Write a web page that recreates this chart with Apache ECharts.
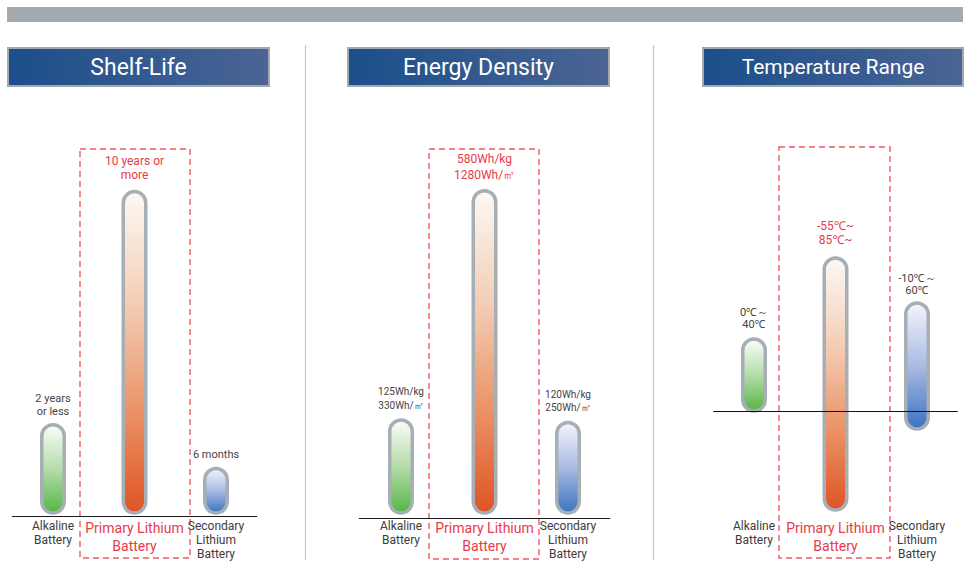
<!DOCTYPE html>
<html>
<head>
<meta charset="utf-8">
<script src="https://cdn.jsdelivr.net/npm/echarts@6/dist/echarts.min.js"></script>
<style>
  html, body { margin: 0; padding: 0; background: #ffffff; }
  #chart { width: 966px; height: 584px; }
</style>
</head>
<body>
<div id="chart"></div>
<script>
// ---- data ----
const categories = ['Alkaline\nBattery', 'Primary Lithium\nBattery', 'Secondary\nLithium\nBattery'];
const panelTitles = ['Shelf-Life', 'Energy Density', 'Temperature Range'];

const shelfLifeYears = [2, 10, 0.5];
const shelfLifeLabels = ['2 years\nor less', '10 years or\nmore', '6 months'];

const energyWhPerKg = [125, 580, 120];
const energyWhPerM3 = [330, 1280, 250];

const tempMinC = [0, -55, -10];
const tempMaxC = [40, 85, 60];
const tempLabels = ['0℃～\n40℃', '-55℃~\n85℃~', '-10℃～\n60℃'];

const energyLabels = energyWhPerKg.map((kg, i) => kg + 'Wh/kg\n' + energyWhPerM3[i] + 'Wh/㎥');

// ---- styling ----
const FONT = 'Roboto, "Noto Sans", sans-serif';
const RED = '#e63c4b';
const GREY_TEXT = '#444444';

const tubeFills = [
  [{ offset: 0, color: '#fbfdfa' }, { offset: 0.5, color: '#b5dca9' }, { offset: 1, color: '#55b544' }],
  [{ offset: 0, color: '#fdf8f5' }, { offset: 0.35, color: '#f3cdb5' }, { offset: 0.7, color: '#ea8f62' }, { offset: 1, color: '#de5424' }],
  [{ offset: 0, color: '#f4f5fc' }, { offset: 0.5, color: '#a9bbe1' }, { offset: 1, color: '#3b72c0' }]
];

const panels = [
  {
    grid: { left: 12.25, width: 244.5, top: 140, height: 376 },
    yMin: -0.1, yMax: 12.8, labelMargin: 3, showAxisLine: true,
    data: shelfLifeYears.map((v, i) => [i, 0, v]),
    labels: shelfLifeLabels, capExtra: 30,
    labelSize: [11, 12, 11], labelGap: [5, 8, 6], labelLH: [13, 14, 13]
  },
  {
    grid: { left: 359.25, width: 250.5, top: 140, height: 378 },
    yMin: -10, yMax: 740, labelMargin: 1, showAxisLine: true,
    data: energyWhPerKg.map((v, i) => [i, 0, v]),
    labels: energyLabels, capExtra: 30,
    labelSize: [10, 12, 10], labelGap: [5, 6, 6], labelLH: [14, 16, 13]
  },
  {
    grid: { left: 713.25, width: 244.5, top: 141, height: 378 },
    yMin: -60, yMax: 150, labelMargin: 0, showAxisLine: false,
    data: tempMaxC.map((v, i) => [i, tempMinC[i], v]),
    labels: tempLabels, capExtra: 0,
    labelSize: [11, 12, 11], labelGap: [7, 9, 5], labelLH: [12, 14, 12]
  }
];

function categoryData() {
  return categories.map((c, i) => ({
    value: c,
    textStyle: i === 1
      ? { color: RED, fontSize: 14, lineHeight: 18, fontFamily: FONT }
      : { color: '#3c3c3c', fontSize: 12, lineHeight: 14, fontFamily: FONT }
  }));
}

function makeRenderer(panel) {
  return function (params, api) {
    const ci = api.value(0);
    const lo = api.value(1);
    const hi = api.value(2);
    const pTop = api.coord([ci, hi]);
    const pBot = api.coord([ci, lo]);
    const w = 22.5;
    const yTop = pTop[1] - panel.capExtra;
    const yBot = pBot[1];
    const idx = params.dataIndex;
    return {
      type: 'group',
      children: [
        {
          type: 'rect',
          shape: { x: pTop[0] - w / 2, y: yTop, width: w, height: yBot - yTop, r: w / 2 },
          style: {
            fill: new echarts.graphic.LinearGradient(0, 0, 0, 1, tubeFills[ci]),
            stroke: '#a6aeb6',
            lineWidth: 3.5
          }
        },
        {
          type: 'text',
          style: {
            text: panel.labels[idx],
            x: pTop[0],
            y: yTop - 2 - panel.labelGap[idx],
            align: 'center',
            verticalAlign: 'bottom',
            fill: ci === 1 ? RED : GREY_TEXT,
            fontSize: panel.labelSize[idx],
            lineHeight: panel.labelLH[idx],
            fontFamily: FONT
          }
        }
      ]
    };
  };
}

const grids = [], xAxes = [], yAxes = [], series = [];
panels.forEach((p, k) => {
  grids.push(Object.assign({ containLabel: false }, p.grid));
  xAxes.push({
    type: 'category', gridIndex: k, data: categoryData(),
    axisLine: { show: p.showAxisLine, onZero: false, lineStyle: { color: '#1a1a1a', width: 1 } },
    axisTick: { show: false },
    axisLabel: { interval: 0, margin: p.labelMargin, fontFamily: FONT }
  });
  yAxes.push({
    type: 'value', gridIndex: k, min: p.yMin, max: p.yMax, show: false,
    splitLine: { show: false }
  });
  const s = {
    type: 'custom', xAxisIndex: k, yAxisIndex: k,
    encode: { x: 0, y: [1, 2] },
    data: p.data,
    renderItem: makeRenderer(p),
    silent: true
  };
  if (k === 2) {
    // 0 ℃ reference line
    s.markLine = {
      symbol: 'none', silent: true, z: 10,
      label: { show: false },
      lineStyle: { color: '#111111', width: 1, type: 'solid' },
      data: [{ yAxis: 0 }]
    };
  }
  series.push(s);
});

// header boxes and highlight frames
const titleBoxes = [[8, 269], [348, 609], [703, 963]];
const highlightFrames = [[80, 149, 190, 558], [429, 149, 539, 559], [779, 147, 890, 558]];

const graphics = [
  { type: 'rect', shape: { x: 7, y: 7, width: 956, height: 15 }, style: { fill: '#a3abb1' }, silent: true },
  { type: 'line', shape: { x1: 305.5, y1: 45, x2: 305.5, y2: 560 }, style: { stroke: '#c4c7ca', lineWidth: 1.2 }, silent: true },
  { type: 'line', shape: { x1: 653.5, y1: 45, x2: 653.5, y2: 560 }, style: { stroke: '#c4c7ca', lineWidth: 1.2 }, silent: true }
];
titleBoxes.forEach(([x1, x2]) => {
  graphics.push({
    type: 'rect', silent: true,
    shape: { x: x1, y: 48, width: x2 - x1, height: 38 },
    style: {
      fill: new echarts.graphic.LinearGradient(0, 0, 1, 0, [
        { offset: 0, color: '#1b4e8a' }, { offset: 1, color: '#4b6494' }
      ]),
      stroke: '#a2aab1', lineWidth: 2
    }
  });
});
highlightFrames.forEach(([x1, y1, x2, y2]) => {
  graphics.push({
    type: 'rect', silent: true,
    shape: { x: x1, y: y1, width: x2 - x1, height: y2 - y1 },
    style: { fill: 'none', stroke: '#ef5a64', lineWidth: 1.4, lineDash: [6, 4] }
  });
});

const titles = panelTitles.map((t, i) => ({
  text: t,
  left: (titleBoxes[i][0] + titleBoxes[i][1]) / 2,
  top: 67,
  textAlign: 'center',
  textVerticalAlign: 'middle',
  padding: 0,
  textStyle: { color: '#ffffff', fontSize: i === 2 ? 21 : 23, fontWeight: 'normal', fontFamily: FONT }
}));

const chart = echarts.init(document.getElementById('chart'), null, { renderer: 'svg' });
chart.setOption({
  animation: false,
  backgroundColor: '#ffffff',
  title: titles,
  graphic: graphics,
  grid: grids,
  xAxis: xAxes,
  yAxis: yAxes,
  series: series
});
</script>
</body>
</html>
